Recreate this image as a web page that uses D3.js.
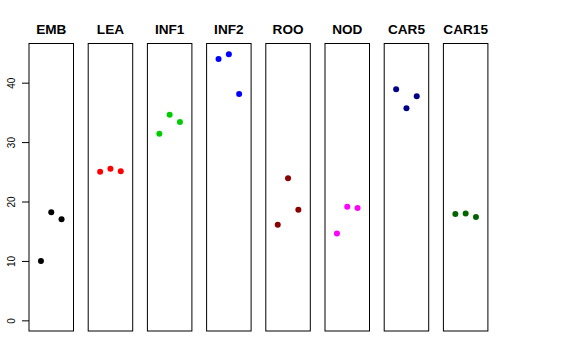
<!DOCTYPE html>
<html>
<head>
<meta charset="utf-8">
<script src="https://cdn.jsdelivr.net/npm/d3@7"></script>
<style>
  body { margin: 0; background: #fff; }
  svg { display: block; font-family: "Liberation Sans", Arial, sans-serif; }
</style>
</head>
<body>
<div id="chart"></div>
<script>
// stage names, colours and the three replicate values per stage
const stages = ["EMB", "LEA", "INF1", "INF2", "ROO", "NOD", "CAR5", "CAR15"];
const colors = ["#000000", "#FF0000", "#00CD00", "#0000FF", "#8B0000", "#FF00FF", "#00008B", "#006400"];
const rep1 = [10.0, 25.0, 31.4, 44.0, 16.1, 14.6, 38.9, 17.9];
const rep2 = [18.2, 25.5, 34.6, 44.8, 23.9, 19.1, 35.7, 18.0];
const rep3 = [17.0, 25.1, 33.4, 38.1, 18.6, 18.9, 37.7, 17.4];
const yTicks = [0, 10, 20, 30, 40];

const width = 576, height = 360;
const panelLeft = 29, panelStep = 59.2, panelWidth = 44.5;
const plotTop = 43.5, plotBottom = 331;

const svg = d3.select("#chart").append("svg")
    .attr("width", width)
    .attr("height", height);

// y range like R: ylim c(0, max) padded 4%
const yMax = d3.max([...rep1, ...rep2, ...rep3]);
const pad = 0.04 * yMax;
const y = d3.scaleLinear()
    .domain([-pad, yMax + pad])
    .range([plotBottom, plotTop]);

// x within each panel: points at 1,2,3 on xlim c(0,4)
const x = d3.scaleLinear()
    .domain([-0.16, 4.16])
    .range([0, panelWidth]);

const panel = d3.scaleLinear()
    .domain([0, 1])
    .range([panelLeft, panelLeft + panelStep]);

stages.forEach((name, i) => {
    const g = svg.append("g")
        .attr("transform", `translate(${panel(i)},0)`);

    g.append("rect")
        .attr("x", 0)
        .attr("y", plotTop)
        .attr("width", panelWidth)
        .attr("height", plotBottom - plotTop)
        .attr("fill", "none")
        .attr("stroke", "#000")
        .attr("stroke-width", 1);

    g.append("text")
        .attr("x", panelWidth / 2)
        .attr("y", 34)
        .attr("text-anchor", "middle")
        .attr("font-size", 13.6)
        .attr("font-weight", "bold")
        .text(name);

    const vals = [rep1[i], rep2[i], rep3[i]];
    g.selectAll("circle")
        .data(vals)
        .enter()
        .append("circle")
        .attr("cx", (d, j) => x(j + 1))
        .attr("cy", d => y(d))
        .attr("r", 3)
        .attr("fill", colors[i]);
});

// left axis, R style: labels rotated, ticks outward
const yAxis = d3.axisLeft(y)
    .tickValues(yTicks)
    .tickSize(7)
    .tickPadding(6);

const axisG = svg.append("g")
    .attr("transform", `translate(${panelLeft},0)`)
    .call(yAxis);

axisG.select(".domain").remove();
axisG.selectAll("text")
    .attr("font-family", "Liberation Sans, Arial, sans-serif")
    .attr("font-size", 10)
    .attr("fill", "#000")
    .attr("x", 0)
    .attr("dy", 0)
    .attr("text-anchor", "middle")
    .attr("transform", "translate(-17,0) rotate(-90)")
    .attr("dominant-baseline", "middle");
axisG.selectAll("line").attr("stroke", "#000");
</script>
</body>
</html>
